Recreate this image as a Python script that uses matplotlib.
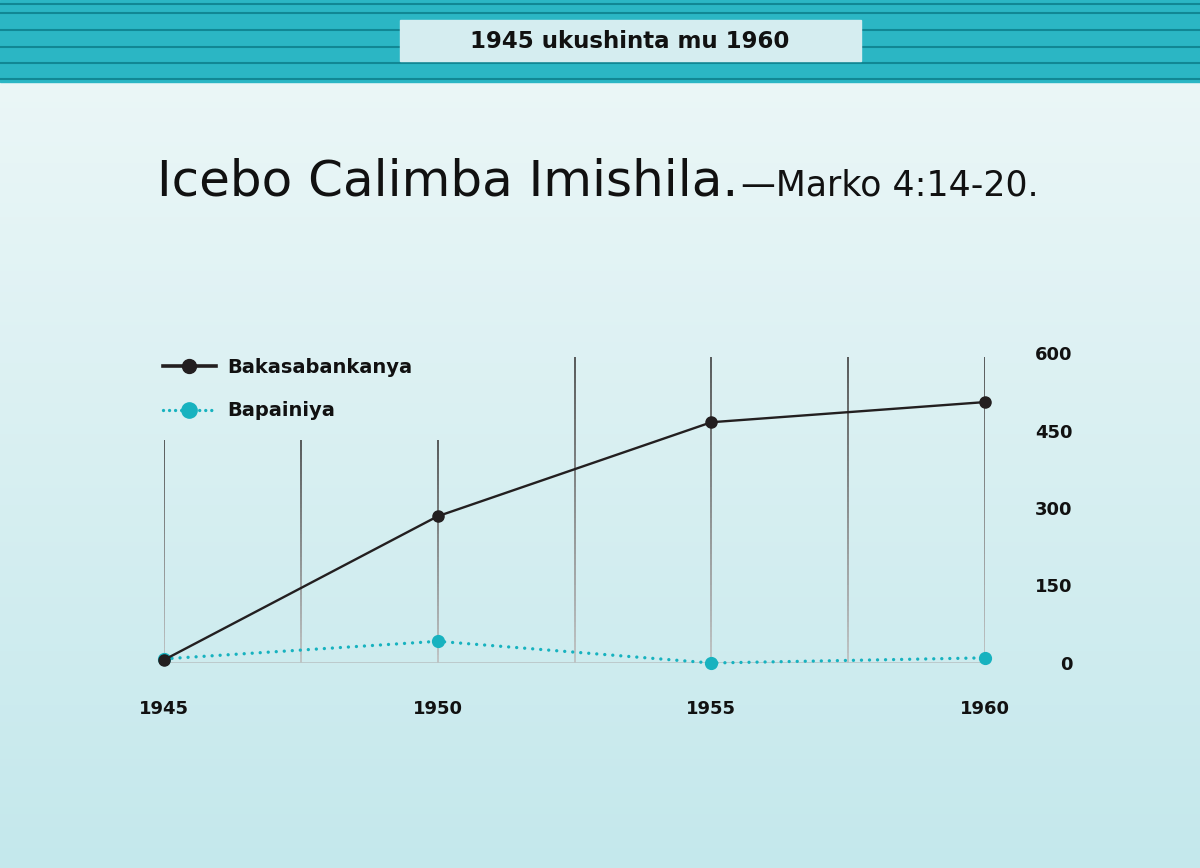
import numpy as np
import matplotlib
matplotlib.use('Agg')
import matplotlib.pyplot as plt
from matplotlib.collections import LineCollection
from matplotlib.lines import Line2D

# Data
years = [1945, 1950, 1955, 1960]
publishers = [6, 284, 466, 505]   # Bakasabankanya
pioneers = [8, 42, 0, 10]         # Bapainiya
series_names = ['Bakasabankanya', 'Bapainiya']
y_ticks = [0, 150, 300, 450, 600]
banner_text = '1945 ukushinta mu 1960'
title_main = 'Icebo Calimba Imishila.'
title_ref = '\u2014Marko 4:14-20.'

W, H = 1200, 868
body = 'DejaVu Sans'

fig = plt.figure(figsize=(W / 100, H / 100), dpi=100)

def fx(px):
    return px / W

def fy(py):
    return 1 - py / H

# background gradient
bg = fig.add_axes([0, 0, 1, 1])
bg.set_axis_off()
top = np.array([0xef, 0xf8, 0xf8]) / 255
bot = np.array([0xc4, 0xe8, 0xec]) / 255
t = np.linspace(0, 1, 256)[:, None]
grad = top[None, :] * (1 - t) + bot[None, :] * t
bg.imshow(grad[:, None, :], aspect='auto', extent=[0, 1, 0, 1], origin='upper')
bg.set_xlim(0, 1)
bg.set_ylim(0, 1)

# teal banner with darker stripes
bg.add_patch(plt.Rectangle((0, fy(82)), 1, 82 / H, color='#2bb6c4', zorder=2))
for sy in [4, 13, 30, 47, 63, 79]:
    bg.plot([0, 1], [fy(sy), fy(sy)], color='#0d7f8c', lw=1.5, alpha=0.85, zorder=3)
bg.add_patch(plt.Rectangle((fx(400), fy(61)), fx(861) - fx(400), 41 / H,
                           color='#d5edf0', zorder=4))
bg.text(fx(630), fy(41), banner_text, ha='center', va='center', fontsize=16.5,
        fontweight='bold', color='#111111', zorder=5)

# title
t1 = bg.text(fx(157), fy(195), title_main, ha='left', va='baseline', fontsize=36,
             color='#111111')
fig.canvas.draw()
ext = t1.get_window_extent()
bg.text(fx(ext.x1 + 3), fy(195), title_ref, ha='left', va='baseline', fontsize=25,
        color='#111111')

# chart axes
ax = fig.add_axes([fx(164), fy(663), fx(985) - fx(164), (663 - 353) / H])
ax.patch.set_alpha(0)
ax.set_xlim(1945, 1960)
ax.set_ylim(0, 600)
for s in ax.spines.values():
    s.set_visible(False)

# vertical gridlines fading downward
grid_x = np.arange(1945, 1960.1, 2.5)
for gx in grid_x:
    gtop = 432 if gx <= 1950 else 592
    ys = np.linspace(0, gtop, 60)
    segs = [[(gx, ys[i]), (gx, ys[i + 1])] for i in range(len(ys) - 1)]
    shade = np.linspace(0.74, 0.25, len(segs))
    cols = [(s, s, s, 1) for s in shade]
    ax.add_collection(LineCollection(segs, colors=cols, linewidths=1.2, zorder=1))
ax.plot([1945, 1960], [0, 0], color='#b9c4c6', lw=1.2, zorder=1)

ax.plot(years, publishers, color='#231f20', lw=1.7, marker='o', ms=8,
        clip_on=False, zorder=4)
ax.plot(years, pioneers, color='#17b2bf', lw=2.4, linestyle=(0, (0.01, 2.4)),
        dash_capstyle='round', marker='o', ms=8.5, clip_on=False, zorder=3)

ax.set_xticks(years)
ax.set_xticklabels([str(y) for y in years], fontsize=13, fontweight='bold',
                   family=body, color='#111111')
ax.tick_params(axis='x', length=0, pad=27)
ax.yaxis.tick_right()
ax.set_yticks(y_ticks)
ax.set_yticklabels([str(v) for v in y_ticks], fontsize=13, fontweight='bold',
                   family=body, color='#111111', ha='right')
ax.tick_params(axis='y', length=0, pad=63)

handles = [
    Line2D([], [], color='#231f20', lw=2.6, marker='o', ms=10),
    Line2D([], [], color='#17b2bf', lw=2.4, linestyle=(0, (0.01, 1.8)),
           dash_capstyle='round', marker='o', ms=11),
]
leg = fig.legend(handles, series_names, loc='upper left',
                 bbox_to_anchor=(fx(163), fy(358)), frameon=False,
                 borderpad=0, borderaxespad=0, handlelength=2.7, handletextpad=0.6,
                 labelspacing=1.25, prop={'family': body, 'size': 14, 'weight': 'bold'})
for txt in leg.get_texts():
    txt.set_color('#111111')

fig.savefig('out.png', dpi=100)
